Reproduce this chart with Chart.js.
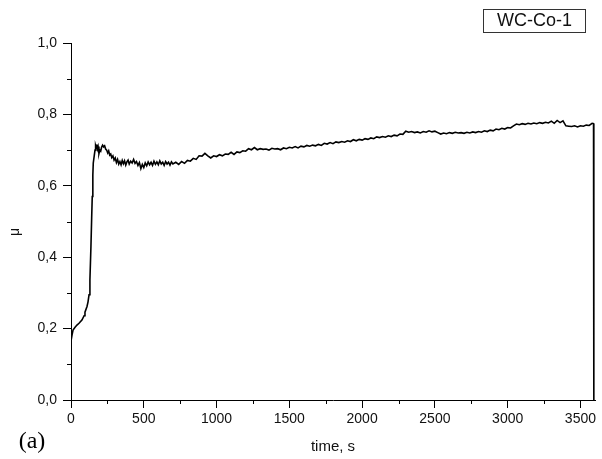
<!DOCTYPE html>
<html>
<head>
<meta charset="utf-8">
<script src="https://cdn.jsdelivr.net/npm/chart.js@4.4.1/dist/chart.umd.min.js"></script>
<style>
  html, body { margin: 0; padding: 0; background: #fff; }
</style>
</head>
<body>
<canvas id="myChart" width="602" height="459"></canvas>
<script>
// friction coefficient vs. time, sample WC-Co-1

var time = [
    0, 7, 14, 28, 41, 55, 75, 90, 96, 110, 117, 124, 130, 137, 142, 146, 150, 153,
    160, 165, 169, 173, 176, 181, 186, 192, 198, 204, 210, 217, 224, 231, 238, 245,
    252, 259, 266, 273, 280, 288, 296, 304, 312, 320, 328, 336, 344, 352, 360, 368,
    376, 384, 392, 400,
    410, 420, 430, 440, 450, 460, 470, 480, 490, 500, 510, 520, 530, 540, 550, 560,
    570, 580, 590, 600, 610, 620, 630, 640, 650, 660, 670, 680, 690, 700,
    720, 740, 760, 780, 800, 820, 840, 860, 880, 900, 920, 940, 960, 980, 1000,
    1020, 1040, 1060, 1080, 1100, 1120, 1140, 1160, 1180, 1200, 1220, 1240, 1260, 1280, 1300,
    1320, 1340, 1360, 1380, 1400, 1420, 1440, 1460, 1480, 1500, 1520, 1540, 1560, 1580, 1600,
    1620, 1640, 1660, 1680, 1700, 1720, 1740, 1760, 1780, 1800, 1820, 1840, 1860, 1880, 1900,
    1920, 1940, 1960, 1980, 2000, 2020, 2040, 2060, 2080, 2100, 2120, 2140, 2160, 2180, 2200,
    2220, 2240, 2260, 2280, 2300, 2320, 2340, 2360, 2380, 2400, 2420, 2440, 2460, 2480, 2500,
    2520, 2540, 2560, 2580, 2600, 2620, 2640, 2660, 2680, 2700, 2720, 2740, 2760, 2780, 2800,
    2820, 2840, 2860, 2880, 2900, 2920, 2940, 2960, 2980, 3000, 3020, 3040, 3060, 3080, 3100,
    3120, 3140, 3160, 3180, 3200, 3220, 3240, 3260, 3280, 3300, 3320, 3340, 3360, 3380, 3400,
    3420, 3440, 3460, 3480, 3500, 3520, 3540, 3560, 3580, 3590, 3592
];

var mu = [
    0.165, 0.182, 0.196, 0.204, 0.210, 0.215, 0.224, 0.236, 0.246, 0.262, 0.275, 0.295, 0.336, 0.430, 0.510, 0.570, 0.630, 0.664,
    0.685, 0.700, 0.712, 0.706, 0.716, 0.703, 0.710, 0.690, 0.700, 0.697, 0.708, 0.714, 0.709, 0.712, 0.703, 0.700,
    0.692, 0.698, 0.686, 0.689, 0.679, 0.684, 0.672, 0.678, 0.665, 0.674, 0.661, 0.668, 0.659, 0.671, 0.662, 0.670,
    0.658, 0.667, 0.672, 0.661,
    0.669, 0.664, 0.674, 0.663, 0.668, 0.657, 0.665, 0.648, 0.660, 0.651, 0.664, 0.656, 0.667, 0.659, 0.666, 0.657,
    0.669, 0.660, 0.667, 0.659, 0.670, 0.661, 0.666, 0.657, 0.668, 0.661, 0.666, 0.658, 0.667, 0.661,
    0.666, 0.660, 0.668, 0.663, 0.671, 0.669, 0.677, 0.674, 0.684, 0.683, 0.691, 0.684, 0.678, 0.684, 0.682,
    0.687, 0.684, 0.689, 0.688, 0.694, 0.688, 0.695, 0.693, 0.698, 0.697, 0.704, 0.701, 0.707, 0.701, 0.704,
    0.702, 0.703, 0.700, 0.705, 0.703, 0.704, 0.701, 0.706, 0.704, 0.708, 0.706, 0.710, 0.706, 0.711, 0.709,
    0.713, 0.711, 0.714, 0.712, 0.716, 0.713, 0.719, 0.717, 0.721, 0.718, 0.723, 0.721, 0.724, 0.722, 0.726,
    0.724, 0.729, 0.726, 0.730, 0.728, 0.732, 0.730, 0.734, 0.732, 0.737, 0.735, 0.738, 0.736, 0.740, 0.738,
    0.742, 0.740, 0.745, 0.744, 0.753, 0.750, 0.752, 0.749, 0.751, 0.748, 0.752, 0.750, 0.754, 0.751, 0.753,
    0.749, 0.745, 0.748, 0.746, 0.749, 0.747, 0.750, 0.748, 0.749, 0.747, 0.750, 0.748, 0.751, 0.749, 0.752,
    0.750, 0.754, 0.752, 0.756, 0.754, 0.759, 0.757, 0.761, 0.759, 0.763, 0.762, 0.768, 0.773, 0.771, 0.774,
    0.772, 0.775, 0.773, 0.776, 0.774, 0.777, 0.775, 0.778, 0.776, 0.781, 0.775, 0.783, 0.777, 0.782, 0.768,
    0.767, 0.766, 0.768, 0.765, 0.768, 0.767, 0.770, 0.769, 0.775, 0.774, 0.000
];

var xMajor = [0, 500, 1000, 1500, 2000, 2500, 3000, 3500];
var xLabels = ['0', '500', '1000', '1500', '2000', '2500', '3000', '3500'];
var xMinor = [250, 750, 1250, 1750, 2250, 2750, 3250];

var yMajor = [0, 0.2, 0.4, 0.6, 0.8, 1.0];
var yLabels = ['0,0', '0,2', '0,4', '0,6', '0,8', '1,0'];
var yMinor = [0.1, 0.3, 0.5, 0.7, 0.9];

var sans = "'Liberation Sans', Arial, sans-serif";

// short minor ticks, the sample box, the mu label and the panel letter
var extras = {
    id: 'extras',
    afterDraw: function (chart) {
        var ctx = chart.ctx;
        var xs = chart.scales.x;
        var ys = chart.scales.y;
        var area = chart.chartArea;
        ctx.save();
        ctx.strokeStyle = '#000';
        ctx.lineWidth = 1;
        ctx.beginPath();
        xMinor.forEach(function (v) {
            var px = Math.round(xs.getPixelForValue(v)) + 0.5;
            ctx.moveTo(px, area.bottom);
            ctx.lineTo(px, area.bottom + 4);
        });
        yMinor.forEach(function (v) {
            var py = Math.round(ys.getPixelForValue(v)) + 0.5;
            ctx.moveTo(area.left - 4, py);
            ctx.lineTo(area.left, py);
        });
        ctx.stroke();

        // sample name box
        ctx.strokeStyle = '#333';
        ctx.strokeRect(483.5, 9.5, 102, 23);
        ctx.fillStyle = '#111';
        ctx.font = '18px ' + sans;
        ctx.textAlign = 'center';
        ctx.textBaseline = 'middle';
        ctx.fillText('WC-Co-1', 534.5, 21.5);

        // y axis symbol
        ctx.save();
        ctx.translate(15, 232);
        ctx.rotate(-Math.PI / 2);
        ctx.font = '14px ' + sans;
        ctx.fillText('\u03bc', 0, 0);
        ctx.restore();

        ctx.font = '24px "Liberation Serif", "Times New Roman", serif';
        ctx.fillStyle = '#000';
        ctx.fillText('(a)', 32, 442);
        ctx.restore();
    }
};

var ctx = document.getElementById('myChart');
var myChart = new Chart(ctx, {
    type: 'line',
    data: {
        datasets: [{
            label: 'WC-Co-1',
            data: time.map(function (t, i) { return { x: t, y: mu[i] }; }),
            borderColor: '#000',
            borderWidth: 1.6,
            pointRadius: 0,
            tension: 0,
            fill: false
        }]
    },
    options: {
        responsive: false,
        animation: false,
        layout: { padding: { top: 43, right: 7, bottom: 0, left: 0 } },
        plugins: {
            legend: { display: false },
            tooltip: { enabled: false }
        },
        scales: {
            x: {
                type: 'linear',
                min: 0,
                max: 3600,
                afterBuildTicks: function (scale) {
                    scale.ticks = xMajor.map(function (v) { return { value: v }; });
                },
                afterFit: function (scale) { scale.height = 59; },
                grid: { drawOnChartArea: false, tickLength: 8, color: '#000' },
                border: { color: '#000', width: 1 },
                ticks: {
                    callback: function (value, index) { return xLabels[index]; },
                    font: { family: sans, size: 14 },
                    color: '#111',
                    padding: 3,
                    maxRotation: 0,
                    autoSkip: false
                },
                title: {
                    display: true,
                    text: 'time, s',
                    font: { family: sans, size: 15 },
                    color: '#111',
                    padding: { top: 0, bottom: 3 }
                }
            },
            y: {
                min: 0,
                max: 1,
                afterBuildTicks: function (scale) {
                    scale.ticks = yMajor.map(function (v) { return { value: v }; });
                },
                afterFit: function (scale) { scale.width = 71; },
                grid: { drawOnChartArea: false, tickLength: 8, color: '#000' },
                border: { color: '#000', width: 1 },
                ticks: {
                    callback: function (value, index) { return yLabels[index]; },
                    font: { family: sans, size: 14 },
                    color: '#111',
                    padding: 6,
                    autoSkip: false
                }
            }
        }
    },
    plugins: [extras]
});
</script>
</body>
</html>
